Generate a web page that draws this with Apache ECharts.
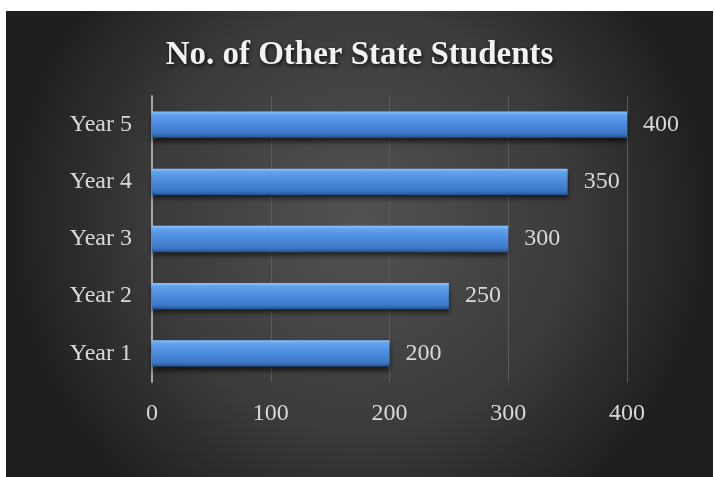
<!DOCTYPE html>
<html>
<head>
<meta charset="utf-8">
<script src="https://cdn.jsdelivr.net/npm/echarts@6/dist/echarts.min.js"></script>
<style>
  html, body { margin: 0; padding: 0; background: #ffffff; }
  #frame { position: absolute; left: 6px; top: 11px; width: 707px; height: 466px; }
  #chart { width: 707px; height: 466px; }
</style>
</head>
<body>
<div id="frame"><div id="chart"></div></div>
<script>
// Chart data
const titleText = 'No. of Other State Students';
const categories = ['Year 1', 'Year 2', 'Year 3', 'Year 4', 'Year 5'];
const students = [200, 250, 300, 350, 400];
const xTicks = { min: 0, max: 400, interval: 100 };

const labelFont = 'Liberation Serif';
const labelColor = '#d9d9d9';
const labelSize = 24;

const chart = echarts.init(document.getElementById('chart'), null, { renderer: 'canvas' });

chart.setOption({
  backgroundColor: {
    type: 'radial', x: 0.5, y: 0.45, r: 0.75,
    colorStops: [
      { offset: 0, color: '#525252' },
      { offset: 0.6, color: '#3b3b3b' },
      { offset: 1, color: '#1f1f1f' }
    ]
  },
  title: {
    text: titleText,
    left: 'center',
    top: 23,
    textStyle: {
      fontFamily: 'Liberation Serif',
      fontWeight: 'bold',
      fontSize: 33,
      color: '#f2f2f2',
      textShadowColor: 'rgba(0,0,0,0.8)',
      textShadowBlur: 4,
      textShadowOffsetX: 1,
      textShadowOffsetY: 2
    }
  },
  grid: { left: 146, right: 86, top: 85, bottom: 95, containLabel: false },
  xAxis: {
    type: 'value',
    min: xTicks.min,
    max: xTicks.max,
    interval: xTicks.interval,
    axisLine: { show: false },
    axisTick: { show: false },
    splitLine: { show: true, lineStyle: { color: '#5c5c5c', width: 1 } },
    axisLabel: { color: labelColor, fontFamily: labelFont, fontSize: labelSize, margin: 20 }
  },
  yAxis: {
    type: 'category',
    data: categories,
    axisLine: { show: true, lineStyle: { color: '#a6a6a6', width: 2 } },
    axisTick: { show: false },
    axisLabel: { color: labelColor, fontFamily: labelFont, fontSize: labelSize, margin: 20 }
  },
  series: [{
    type: 'bar',
    data: students,
    barWidth: '46%',
    itemStyle: {
      color: {
        type: 'linear', x: 0, y: 0, x2: 0, y2: 1,
        colorStops: [
          { offset: 0, color: '#8cc4ff' },
          { offset: 0.12, color: '#62a2ec' },
          { offset: 0.5, color: '#4a8adc' },
          { offset: 0.85, color: '#3b78c6' },
          { offset: 1, color: '#23528f' }
        ]
      },
      shadowColor: 'rgba(0,0,0,0.6)',
      shadowBlur: 5,
      shadowOffsetY: 4
    },
    label: {
      show: true,
      position: 'right',
      distance: 16,
      color: labelColor,
      fontFamily: labelFont,
      fontSize: labelSize
    }
  }]
});
</script>
</body>
</html>
